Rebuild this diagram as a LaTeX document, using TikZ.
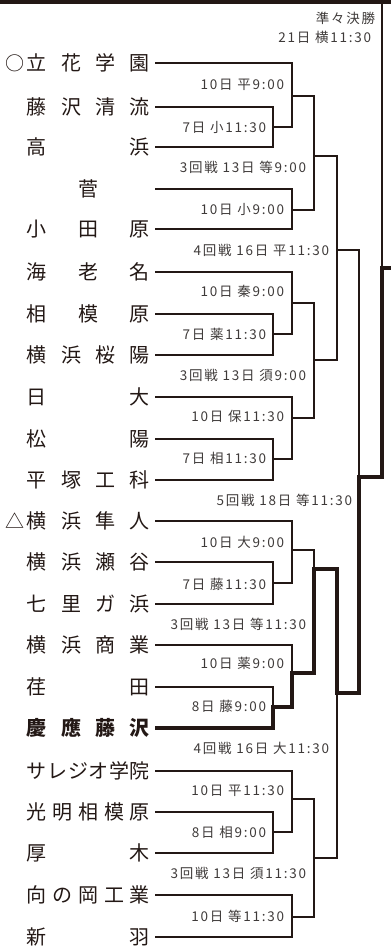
\documentclass[tikz,border=0pt]{standalone}
\usepackage{fontspec}
\setmainfont{Noto Sans CJK JP}
\newfontfamily\gamefont[LetterSpace=13]{Noto Sans CJK JP}
\definecolor{ink}{HTML}{231815}
\definecolor{gamegray}{HTML}{3E3A39}
\newcommand{\spread}[1]{\makebox[123pt][s]{#1}}

\begin{document}
\begin{tikzpicture}
  [x=1pt, y=-1pt, line width=1.6pt, draw=ink,
   team/.style={anchor=west, inner sep=0pt, outer xsep=5pt, text=ink,
     text height=17.6pt, text depth=2.4pt, font=\fontsize{20}{20}\selectfont},
   seed/.style={inner sep=0pt, text=ink, text height=17.6pt, text depth=2.4pt,
     font=\fontsize{19}{19}\selectfont},
   game/.style={anchor=east, inner sep=0pt, text=gamegray,
     text height=11.8pt, text depth=1.7pt, font=\gamefont\fontsize{13.5}{13.5}\selectfont},
   bracket/.style={draw=ink, line width=1.6pt},
   winner/.style={draw=ink, line width=3.6pt, line join=miter}]

\useasboundingbox (0,0) rectangle (391,951);
\fill[ink] (0,0) rectangle (391,4);

\node[seed] (tachibanaSeed) at (15,63) {○};
\node[seed] (hayatoSeed) at (15,521) {△};

\node[team] (tachibana) at (22,63) {\spread{立\hfil 花\hfil 学\hfil 園}};
\node[team] (seiryu) at (22,107) {\spread{藤\hfil 沢\hfil 清\hfil 流}};
\node[team] (takahama) at (22,147) {\spread{高\hfil 浜}};
\node[team] (suge) at (22,189) {\makebox[123pt][c]{菅}};
\node[team] (odawara) at (22,229) {\spread{小\hfil 田\hfil 原}};
\node[team] (ebina) at (22,272) {\spread{海\hfil 老\hfil 名}};
\node[team] (sagamihara) at (22,314) {\spread{相\hfil 模\hfil 原}};
\node[team] (oyo) at (22,355) {\spread{横\hfil 浜\hfil 桜\hfil 陽}};
\node[team] (nichidai) at (22,397) {\spread{日\hfil 大}};
\node[team] (shoyo) at (22,439) {\spread{松\hfil 陽}};
\node[team] (hiratsuka) at (22,480) {\spread{平\hfil 塚\hfil 工\hfil 科}};
\node[team] (hayato) at (22,521) {\spread{横\hfil 浜\hfil 隼\hfil 人}};
\node[team] (seya) at (22,562) {\spread{横\hfil 浜\hfil 瀬\hfil 谷}};
\node[team] (shichiri) at (22,604) {\spread{七\hfil 里\hfil ガ\hfil 浜}};
\node[team] (shogyo) at (22,645) {\spread{横\hfil 浜\hfil 商\hfil 業}};
\node[team] (eda) at (22,687) {\spread{荏\hfil 田}};
\node[team] (keio) at (22,728) {\bfseries\spread{慶\hfil 應\hfil 藤\hfil 沢}};
\node[team] (salesio) at (22,771) {\spread{サ\hfil レ\hfil ジ\hfil オ\hfil 学\hfil 院}};
\node[team] (komei) at (22,812) {\spread{光\hfil 明\hfil 相\hfil 模\hfil 原}};
\node[team] (atsugi) at (22,853) {\spread{厚\hfil 木}};
\node[team] (mukainooka) at (22,895) {\spread{向\hfil の\hfil 岡\hfil 工\hfil 業}};
\node[team] (nippa) at (22,937) {\spread{新\hfil 羽}};

\coordinate (g7a) at (273,127);
\coordinate (g10a) at (292,96);
\coordinate (g10b) at (292,210);
\coordinate (g3a) at (314,156);
\coordinate (g7b) at (273,334);
\coordinate (g10c) at (292,303);
\coordinate (g7c) at (273,459);
\coordinate (g10d) at (292,418);
\coordinate (g3b) at (314,360);
\coordinate (g4a) at (337,250);
\coordinate (g7d) at (273,583);
\coordinate (g10e) at (292,550);
\coordinate (g8c) at (273,707);
\coordinate (g10f) at (292,673);
\coordinate (g3c) at (314,569);
\coordinate (g8d) at (273,832);
\coordinate (g10g) at (292,799);
\coordinate (g10h) at (292,917);
\coordinate (g3d) at (314,858);
\coordinate (g4b) at (337,693);
\coordinate (g5) at (359,477);
\coordinate (qf) at (382,268);
\coordinate (qfTop) at (382,4);
\coordinate (qfOut) at (391,268);

\draw[bracket] (seiryu.east) -| (g7a) (takahama.east) -| (g7a);
\draw[bracket] (tachibana.east) -| (g10a) (g7a) -| (g10a);
\draw[bracket] (suge.east) -| (g10b) (odawara.east) -| (g10b);
\draw[bracket] (g10a) -| (g3a) (g10b) -| (g3a);
\draw[bracket] (sagamihara.east) -| (g7b) (oyo.east) -| (g7b);
\draw[bracket] (ebina.east) -| (g10c) (g7b) -| (g10c);
\draw[bracket] (shoyo.east) -| (g7c) (hiratsuka.east) -| (g7c);
\draw[bracket] (nichidai.east) -| (g10d) (g7c) -| (g10d);
\draw[bracket] (g10c) -| (g3b) (g10d) -| (g3b);
\draw[bracket] (g3a) -| (g4a) (g3b) -| (g4a);
\draw[bracket] (seya.east) -| (g7d) (shichiri.east) -| (g7d);
\draw[bracket] (hayato.east) -| (g10e) (g7d) -| (g10e);
\draw[bracket] (eda.east) -| (g8c);
\draw[bracket] (shogyo.east) -| (g10f);
\draw[bracket] (g10e) -| (g3c);
\draw[bracket] (komei.east) -| (g8d) (atsugi.east) -| (g8d);
\draw[bracket] (salesio.east) -| (g10g) (g8d) -| (g10g);
\draw[bracket] (mukainooka.east) -| (g10h) (nippa.east) -| (g10h);
\draw[bracket] (g10g) -| (g3d) (g10h) -| (g3d);
\draw[bracket] (g3d) -| (g4b);
\draw[bracket] (g4a) -| (g5);
\draw[bracket] (qfTop) -- (qf);

% path of the winner
\draw[winner] (keio.east) -| (g8c) -| (g10f) -| (g3c) -| (g4b) -| (g5) -| (qf) -- (qfOut);

\node[game] (qfName) at (376,18) {準々決勝};
\node[game] (qfTime) at (372,37) {21日 横11:30};
\node[game] (m01) at (285,84) {10日 平9:00};
\node[game] (m02) at (267,127) {7日 小11:30};
\node[game] (m03) at (307,167) {3回戦 13日 等9:00};
\node[game] (m04) at (285,209) {10日 小9:00};
\node[game] (m05) at (330,250) {4回戦 16日 平11:30};
\node[game] (m06) at (285,291) {10日 秦9:00};
\node[game] (m07) at (267,334) {7日 薬11:30};
\node[game] (m08) at (307,375) {3回戦 13日 須9:00};
\node[game] (m09) at (285,416) {10日 保11:30};
\node[game] (m10) at (267,458) {7日 相11:30};
\node[game] (m11) at (353,500) {5回戦 18日 等11:30};
\node[game] (m12) at (285,542) {10日 大9:00};
\node[game] (m13) at (267,584) {7日 藤11:30};
\node[game] (m14) at (307,624) {3回戦 13日 等11:30};
\node[game] (m15) at (285,663) {10日 薬9:00};
\node[game] (m16) at (267,706) {8日 藤9:00};
\node[game] (m17) at (330,748) {4回戦 16日 大11:30};
\node[game] (m18) at (285,790) {10日 平11:30};
\node[game] (m19) at (267,832) {8日 相9:00};
\node[game] (m20) at (307,873) {3回戦 13日 須11:30};
\node[game] (m21) at (285,916) {10日 等11:30};
\end{tikzpicture}
\end{document}
